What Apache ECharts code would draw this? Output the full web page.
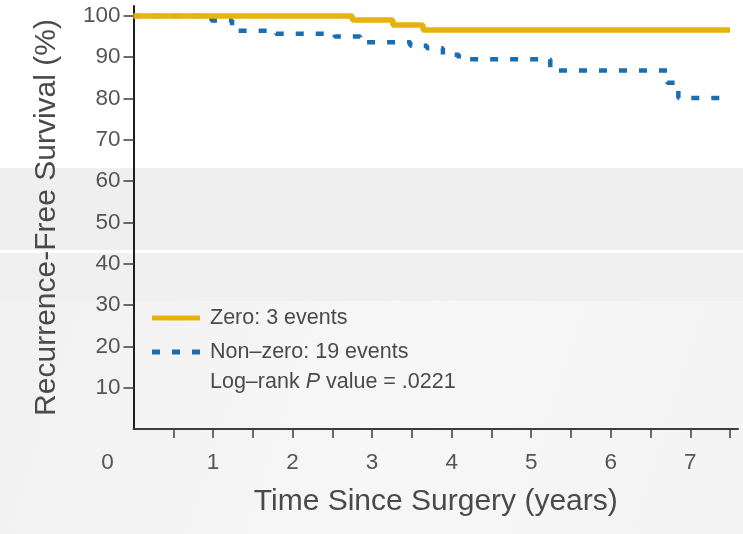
<!DOCTYPE html>
<html>
<head>
<meta charset="utf-8">
<script src="https://cdn.jsdelivr.net/npm/echarts@6/dist/echarts.min.js"></script>
<style>
  html, body { margin: 0; padding: 0; background: #ffffff; }
  #chart { width: 743px; height: 534px; }
</style>
</head>
<body>
<div id="chart"></div>
<script>
// Kaplan–Meier recurrence-free survival: step points (years since surgery, % survival)
const zeroTimes = [0, 2.75, 3.26, 3.64, 7.5];
const zeroSurvival = [100, 99.0, 97.8, 96.6, 96.6];

const nonZeroTimes = [0, 0.98, 1.24, 1.79, 2.53, 2.85, 3.48, 3.69, 3.89, 4.09, 5.24, 6.71, 6.85, 7.45];
const nonZeroSurvival = [100, 98.9, 96.4, 95.7, 95.0, 93.6, 92.8, 92.2, 90.6, 89.5, 86.8, 83.8, 80.1, 80.1];

const seriesNames = ['Zero: 3 events', 'Non–zero: 19 events'];
const pValueLabel = '.0221';

const yTickValues = [10, 20, 30, 40, 50, 60, 70, 80, 90, 100];
const xTickValues = [0.5, 1, 1.5, 2, 2.5, 3, 3.5, 4, 4.5, 5, 5.5, 6, 6.5, 7, 7.5];
const xLabelValues = [0, 1, 2, 3, 4, 5, 6, 7];

const FONT = '"Liberation Sans", Arial, sans-serif';
const TEXT = '#4a4a4a';
const TICK_TEXT = '#555555';
const GOLD = '#e6b30e';
const BLUE = '#1b6fb1';
const BLUE_DASH = [8, 12];
const KEY_FONT = 21.5;
const TICK_FONT = 22.5;

function pairs(xs, ys) {
  return xs.map((x, i) => [x, ys[i]]);
}

// Key block: a short line sample followed by its caption
function keyRow(y, color, dash, width, caption) {
  return [
    {
      type: 'line', silent: true,
      shape: { x1: 152, y1: y, x2: 200, y2: y },
      style: { stroke: color, lineWidth: width, lineDash: dash, lineCap: 'butt' }
    },
    {
      type: 'text', silent: true, x: 210, y: y,
      style: { text: caption, fontSize: KEY_FONT, fontFamily: FONT, fill: TEXT, verticalAlign: 'middle', align: 'left' }
    }
  ];
}

const chart = echarts.init(document.getElementById('chart'), null, { renderer: 'canvas' });

chart.setOption({
  animation: false,
  backgroundColor: 'transparent',
  textStyle: { fontFamily: FONT },
  grid: { left: 133.5, right: 5, top: 6, bottom: 105, containLabel: false },
  graphic: [
    { type: 'rect', z: -10, shape: { x: 0, y: 168, width: 743, height: 82 }, style: { fill: '#efefef' }, silent: true },
    { type: 'rect', z: -10, shape: { x: 0, y: 253, width: 743, height: 48 }, style: { fill: '#f0f0f0' }, silent: true },
    {
      type: 'rect', z: -10, shape: { x: 0, y: 301, width: 743, height: 233 },
      style: {
        fill: new echarts.graphic.LinearGradient(0, 0, 1, 1, [
          { offset: 0, color: '#f1f1f1' },
          { offset: 0.5, color: '#f7f7f7' },
          { offset: 1, color: '#f4f4f4' }
        ])
      },
      silent: true
    },
    ...keyRow(318, GOLD, null, 5, seriesNames[0]),
    ...keyRow(352, BLUE, BLUE_DASH, 5, seriesNames[1]),
    {
      type: 'text', silent: true, x: 210, y: 382,
      style: {
        text: '{a|Log–rank }{p|P}{a| value = ' + pValueLabel + '}',
        verticalAlign: 'middle', align: 'left',
        rich: {
          a: { fontSize: KEY_FONT, fill: TEXT, fontFamily: FONT, fontWeight: 'normal' },
          p: { fontSize: KEY_FONT, fill: TEXT, fontFamily: FONT, fontWeight: 'normal', fontStyle: 'italic' }
        }
      }
    }
  ],
  xAxis: {
    type: 'value',
    min: 0,
    max: 7.6,
    name: 'Time Since Surgery (years)',
    nameLocation: 'middle',
    nameGap: 58,
    nameTextStyle: { fontSize: 30, color: TEXT, fontFamily: FONT },
    splitLine: { show: false },
    axisLine: { show: true, onZero: false, lineStyle: { color: '#3c3c3c', width: 2 } },
    axisTick: { show: true, length: 9, customValues: xTickValues, lineStyle: { color: '#3c3c3c', width: 1.5 } },
    axisLabel: {
      customValues: xLabelValues,
      margin: 22,
      fontSize: TICK_FONT,
      color: TICK_TEXT,
      fontFamily: FONT,
      formatter: v => (v === 0 ? '{o|0}' : String(v)),
      rich: { o: { fontSize: TICK_FONT, color: TICK_TEXT, fontFamily: FONT, padding: [0, 52, 0, 0] } }
    }
  },
  yAxis: {
    type: 'value',
    min: 0,
    max: 102.4,
    name: 'Recurrence-Free Survival (%)',
    nameLocation: 'middle',
    nameGap: 72,
    nameTextStyle: { fontSize: 30, color: TEXT, fontFamily: FONT },
    splitLine: { show: false },
    axisLine: { show: true, onZero: false, lineStyle: { color: '#1e1e1e', width: 2 } },
    axisTick: { show: true, length: 10, customValues: yTickValues, lineStyle: { color: '#3c3c3c', width: 1.5 } },
    axisLabel: {
      customValues: yTickValues,
      margin: 13,
      fontSize: TICK_FONT,
      color: TICK_TEXT,
      fontFamily: FONT
    }
  },
  series: [
    {
      name: seriesNames[1],
      type: 'line',
      step: 'end',
      symbol: 'none',
      silent: true,
      z: 2,
      data: pairs(nonZeroTimes, nonZeroSurvival),
      itemStyle: { color: BLUE },
      lineStyle: { color: BLUE, width: 4.5, type: BLUE_DASH, cap: 'butt' }
    },
    {
      name: seriesNames[0],
      type: 'line',
      step: 'end',
      symbol: 'none',
      silent: true,
      z: 3,
      data: pairs(zeroTimes, zeroSurvival),
      itemStyle: { color: GOLD },
      lineStyle: { color: GOLD, width: 5.5, cap: 'butt' }
    }
  ]
});
</script>
</body>
</html>
